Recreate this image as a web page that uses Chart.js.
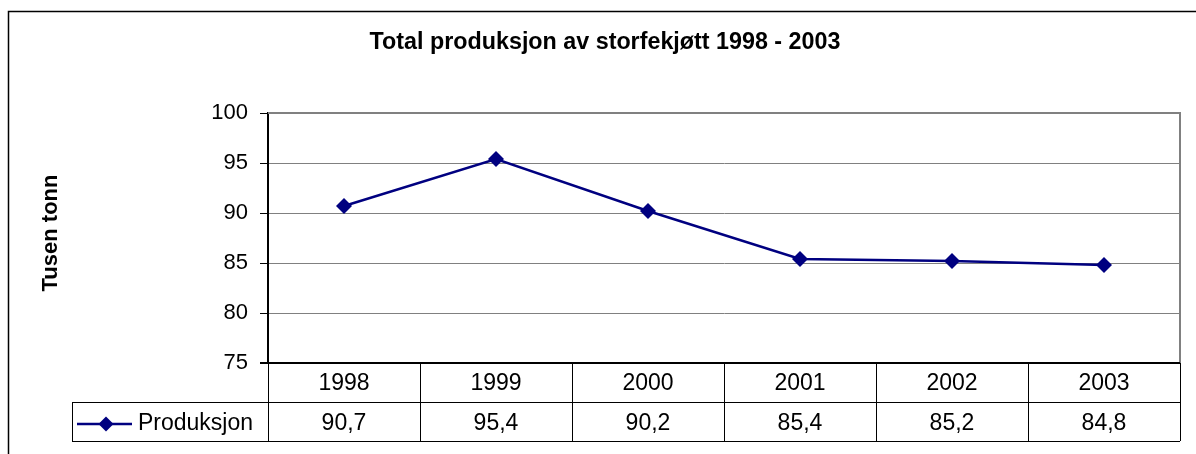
<!DOCTYPE html>
<html>
<head>
<meta charset="utf-8">
<script src="https://cdn.jsdelivr.net/npm/chart.js@4/dist/chart.umd.min.js"></script>
<style>
    body { margin: 0; background: #fff; }
    #wrap { width: 1196px; height: 454px; position: relative; }
</style>
</head>
<body>
<div id="wrap"><canvas id="meatChart"></canvas></div>
<script>
// Chart data
const years = ["1998", "1999", "2000", "2001", "2002", "2003"];
const production = [90.7, 95.4, 90.2, 85.4, 85.2, 84.8];
const yTicks = [75, 80, 85, 90, 95, 100];
const seriesName = "Produksjon";
const chartTitle = "Total produksjon av storfekjøtt 1998 - 2003";
const yAxisTitle = "Tusen tonn";

const FONT = "'Liberation Sans', Arial, sans-serif";
const NAVY = "#000080";

function fmt(v) {
    return v.toFixed(1).replace(".", ",");
}

// Frame, titles and the data table under the plot
const tablePlugin = {
    id: "dataTable",
    afterDraw(chart) {
        const { ctx, chartArea: a, scales: { x } } = chart;
        const rowH = 39;
        const row1 = a.bottom + rowH;
        const row2 = row1 + rowH;
        const legendLeft = 72;

        ctx.save();

        // outer frame
        ctx.strokeStyle = "#000";
        ctx.lineWidth = 1.5;
        ctx.strokeRect(8.5, 11.5, 1300, 600);

        // plot border (top/right) in gray
        ctx.strokeStyle = "#808080";
        ctx.lineWidth = 2;
        ctx.beginPath();
        ctx.moveTo(a.left, a.top);
        ctx.lineTo(a.right, a.top);
        ctx.lineTo(a.right, a.bottom);
        ctx.stroke();

        // x axis line
        ctx.strokeStyle = "#000";
        ctx.lineWidth = 2;
        ctx.beginPath();
        ctx.moveTo(a.left - 8, a.bottom);
        ctx.lineTo(a.right, a.bottom);
        ctx.stroke();

        // table grid
        ctx.lineWidth = 1;
        ctx.beginPath();
        ctx.moveTo(legendLeft, row1 + 0.5);
        ctx.lineTo(a.right, row1 + 0.5);
        ctx.moveTo(legendLeft, row2 + 0.5);
        ctx.lineTo(a.right, row2 + 0.5);
        ctx.moveTo(legendLeft + 0.5, row1);
        ctx.lineTo(legendLeft + 0.5, row2);
        const bounds = [a.left];
        for (let i = 1; i < years.length; i++) {
            bounds.push((x.getPixelForValue(i - 1) + x.getPixelForValue(i)) / 2);
        }
        bounds.push(a.right);
        bounds.forEach(b => {
            const bx = Math.round(b) + 0.5;
            ctx.moveTo(bx, a.bottom);
            ctx.lineTo(bx, row2);
        });
        ctx.stroke();

        // table texts
        ctx.fillStyle = "#000";
        ctx.font = "23px " + FONT;
        ctx.textAlign = "center";
        ctx.textBaseline = "alphabetic";
        years.forEach((yr, i) => {
            const cx = x.getPixelForValue(i);
            ctx.fillText(yr, cx, row1 - 12);
            ctx.fillText(fmt(production[i]), cx, row2 - 11);
        });

        // legend key in the table
        const ky = row1 + 22;
        ctx.strokeStyle = NAVY;
        ctx.lineWidth = 2.5;
        ctx.beginPath();
        ctx.moveTo(77, ky);
        ctx.lineTo(132, ky);
        ctx.stroke();
        ctx.fillStyle = NAVY;
        Chart.helpers.drawPoint(ctx, { pointStyle: "rectRot", radius: 7.5, borderWidth: 0 }, 106, ky);
        ctx.fillStyle = "#000";
        ctx.textAlign = "left";
        ctx.fillText(seriesName, 138, row2 - 11);

        // chart title
        ctx.font = "bold 23.3px " + FONT;
        ctx.textAlign = "center";
        ctx.fillText(chartTitle, 605, 49);

        // y axis title
        ctx.font = "bold 22px " + FONT;
        ctx.translate(57, 233);
        ctx.rotate(-Math.PI / 2);
        ctx.fillText(yAxisTitle, 0, 0);

        ctx.restore();
    }
};

new Chart(document.getElementById("meatChart").getContext("2d"), {
    type: "line",
    data: {
        labels: years,
        datasets: [
            {
                label: seriesName,
                data: production,
                borderColor: NAVY,
                backgroundColor: NAVY,
                borderWidth: 2.5,
                pointStyle: "rectRot",
                pointRadius: 8,
                pointBorderWidth: 0,
                tension: 0,
            },
        ],
    },
    options: {
        responsive: true,
        maintainAspectRatio: false,
        animation: false,
        layout: {
            padding: { left: 0, top: 113, right: 16, bottom: 91 },
        },
        plugins: {
            legend: { display: false },
            tooltip: { enabled: false },
        },
        scales: {
            x: {
                display: false,
                offset: true,
            },
            y: {
                min: 75,
                max: 100,
                afterBuildTicks: scale => {
                    scale.ticks = yTicks.map(v => ({ value: v }));
                },
                afterFit: scale => {
                    scale.width = 268;
                },
                ticks: {
                    color: "#000",
                    padding: 12,
                    font: { family: FONT, size: 22 },
                },
                grid: {
                    color: "#808080",
                    lineWidth: 1,
                    tickColor: "#000",
                    tickLength: 8,
                },
                border: {
                    color: "#000",
                    width: 2,
                },
            },
        },
    },
    plugins: [tablePlugin],
});
</script>
</body>
</html>
